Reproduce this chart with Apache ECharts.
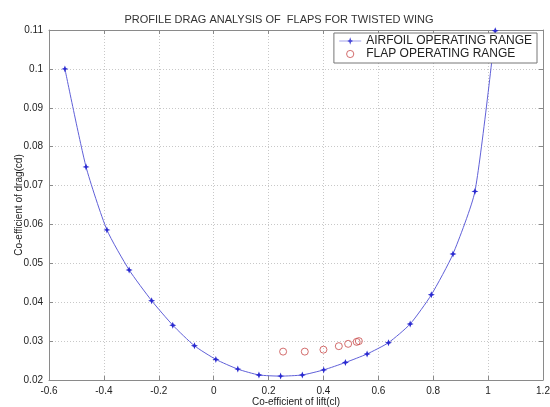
<!DOCTYPE html>
<html>
<head>
<meta charset="utf-8">
<script src="https://cdn.jsdelivr.net/npm/echarts@6/dist/echarts.min.js"></script>
<style>html,body{margin:0;padding:0;background:#fff;}#c{width:550px;height:407px;}</style>
</head>
<body>
<div id="c"></div>
<script>
var titleText = 'PROFILE DRAG ANALYSIS OF  FLAPS FOR TWISTED WING';
var xName = 'Co-efficient of lift(cl)';
var yName = 'Co-efficient of drag(cd)';
var airfoilName = 'AIRFOIL OPERATING RANGE';
var flapName = 'FLAP OPERATING RANGE';

var airfoilCl = [-0.542, -0.465, -0.389, -0.308, -0.226, -0.149, -0.070, 0.008, 0.088, 0.165, 0.244, 0.323, 0.401, 0.480, 0.559, 0.637, 0.716, 0.793, 0.872, 0.952, 1.026];
var airfoilCd = [0.1000, 0.0748, 0.0586, 0.0483, 0.0404, 0.0341, 0.0288, 0.0253, 0.0228, 0.0213, 0.0210, 0.0213, 0.0226, 0.0245, 0.0267, 0.0296, 0.0344, 0.0419, 0.0524, 0.0685, 0.1098];

var flapCl = [0.253, 0.332, 0.400, 0.456, 0.490, 0.521, 0.529];
var flapCd = [0.0273, 0.0273, 0.0278, 0.0287, 0.0293, 0.0298, 0.0300];

var xTicks = {min: -0.6, max: 1.2, interval: 0.2};
var yTicks = {min: 0.02, max: 0.11, interval: 0.01};

var font = 'Liberation Sans, Arial, sans-serif';
var chart = echarts.init(document.getElementById('c'));
var star = 'path://M0,-10L2.8,-2.8L10,0L2.8,2.8L0,10L-2.8,2.8L-10,0L-2.8,-2.8Z';
var legendLineStar = 'path://M0,4.6L24,4.6L24,5.4L0,5.4Z M12,1L13,4L16,5L13,6L12,9L11,6L8,5L11,4Z';
var legendRing = 'path://M0,0L0,0M24,10L24,10M8,5A4,4,0,1,1,16,5A4,4,0,1,1,8,5Z';

function pairs(a, b) { return a.map(function (v, i) { return [v, b[i]]; }); }

var axisCol = '#8a8a8a';
var gridLine = {show: true, lineStyle: {color: '#c8c8c8', type: [1, 2], width: 1}};
function frameLine() { return {show: true, onZero: false, lineStyle: {color: axisCol, width: 1}}; }
function ticks() { return {show: true, inside: true, length: 4, lineStyle: {color: axisCol}}; }

chart.setOption({
  animation: false,
  backgroundColor: '#fff',
  title: {
    text: titleText, left: 274, top: 9, textAlign: 'center',
    textStyle: {fontFamily: font, fontSize: 11, fontWeight: 'normal', color: '#333'}
  },
  grid: {left: 49, right: 7, top: 30, bottom: 27, outerBoundsMode: 'none', containLabel: false},
  legend: {
    right: 13, top: 33, orient: 'vertical', itemGap: 0, itemWidth: 22, itemHeight: 9,
    padding: [2, 5, 2, 3],
    backgroundColor: '#fff', borderColor: '#777', borderWidth: 1,
    textStyle: {fontFamily: font, fontSize: 12, lineHeight: 12, color: '#222'},
    data: [
      {name: airfoilName, icon: legendLineStar, itemStyle: {color: '#4a4ad8'}},
      {name: flapName, icon: legendRing, itemStyle: {color: 'none', borderColor: '#c84a4a', borderWidth: 1}}
    ]
  },
  xAxis: [{
    type: 'value', min: xTicks.min, max: xTicks.max, interval: xTicks.interval,
    name: xName, nameLocation: 'middle', nameGap: 17, nameMoveOverlap: false,
    nameTextStyle: {fontFamily: font, fontSize: 10, color: '#222'},
    axisLine: frameLine(), axisTick: ticks(),
    axisLabel: {fontFamily: font, fontSize: 10, color: '#222', margin: 6,
      formatter: function (v) { return String(parseFloat(v.toFixed(1))); }},
    splitLine: gridLine
  }, {
    type: 'value', position: 'top', min: xTicks.min, max: xTicks.max, interval: xTicks.interval,
    axisLine: frameLine(), axisTick: ticks(),
    axisLabel: {show: false}, splitLine: {show: false}
  }],
  yAxis: [{
    type: 'value', min: yTicks.min, max: yTicks.max, interval: yTicks.interval,
    name: yName, nameLocation: 'middle', nameGap: 25, nameRotate: 90, nameMoveOverlap: false,
    nameTextStyle: {fontFamily: font, fontSize: 10, color: '#222'},
    axisLine: frameLine(), axisTick: ticks(),
    axisLabel: {fontFamily: font, fontSize: 10, color: '#222', margin: 6,
      formatter: function (v) { return String(parseFloat(v.toFixed(2))); }},
    splitLine: gridLine
  }, {
    type: 'value', position: 'right', min: yTicks.min, max: yTicks.max, interval: yTicks.interval,
    axisLine: frameLine(), axisTick: ticks(),
    axisLabel: {show: false}, splitLine: {show: false}
  }],
  series: [{
    name: airfoilName, type: 'line', data: pairs(airfoilCl, airfoilCd),
    smooth: 0.2, clip: true,
    symbol: star, symbolSize: 7,
    lineStyle: {color: '#6060d8', width: 1},
    itemStyle: {color: '#2a2ad0'},
    z: 3
  }, {
    name: flapName, type: 'scatter', data: pairs(flapCl, flapCd),
    symbol: 'circle', symbolSize: 7,
    itemStyle: {color: 'rgba(255,255,255,0)', borderColor: '#c84a4a', borderWidth: 1},
    z: 4
  }]
});
</script>
</body>
</html>
